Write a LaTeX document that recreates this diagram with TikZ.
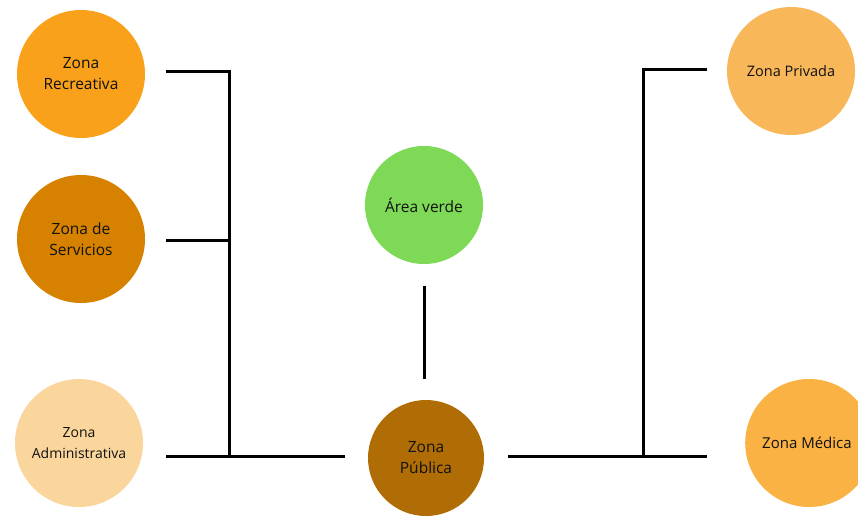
\documentclass[tikz,border=0pt]{standalone}
\usepackage{fontspec}
\setmainfont{Open Sans}
\definecolor{recre}{HTML}{F9A11B}
\definecolor{serv}{HTML}{D68100}
\definecolor{admin}{HTML}{FAD59C}
\definecolor{verde}{HTML}{7ED957}
\definecolor{publica}{HTML}{B06D05}
\definecolor{privada}{HTML}{F8B85A}
\definecolor{medica}{HTML}{FAB245}
\definecolor{txt}{HTML}{111111}
\tikzset{
  zone/.style={circle, minimum size=#1, inner sep=0pt, align=center, text=txt,
    font=\fontsize{15.5}{21}\selectfont},
  zone/.default=128pt,
  link/.style={line width=3pt, black}
}
\begin{document}
\begin{tikzpicture}[x=1pt,y=-1pt]
\useasboundingbox (0,0) rectangle (858,516);
\clip (0,0) rectangle (858,516);
\node[zone, fill=recre] (rec) at (81,74) {Zona\\Recreativa};
\node[zone, fill=serv] (ser) at (81,239) {Zona de\\Servicios};
\node[zone, fill=admin, font=\fontsize{14}{21}\selectfont] (adm) at (79,443) {Zona\\Administrativa};
\node[zone=118pt, fill=verde] (ver) at (424,205) {Área verde};
\node[zone=116pt, fill=publica] (pub) at (426,458) {Zona\\Pública};
\node[zone, fill=privada, font=\fontsize{14.5}{21}\selectfont] (pri) at (791,71) {Zona Privada};
\node[zone, fill=medica, font=\fontsize{15}{21}\selectfont, anchor=west] (med) at (745,443) {};
\node[font=\fontsize{15}{21}\selectfont, text=txt, anchor=west, inner sep=0pt] (medt) at (762,443) {Zona Médica};
% left bracket
\coordinate (l1) at (166,72);
\coordinate (l2) at (229,72);
\coordinate (l3) at (166,240);
\coordinate (l4) at (229,240);
\coordinate (l5) at (166,456);
\coordinate (l6) at (229,456);
\coordinate (l7) at (345,456);
\draw[link] (l1) -- (l2) -- (l6);
\draw[link] (l3) -- (l4);
\draw[link] (l5) -- (l7);
% center
\coordinate (c1) at (424,286);
\coordinate (c2) at (424,379);
\draw[link] (c1) -- (c2);
% right bracket
\coordinate (r1) at (707,70);
\coordinate (r2) at (643,70);
\coordinate (r3) at (643,456);
\coordinate (r4) at (508,456);
\coordinate (r5) at (707,456);
\draw[link] (r1) -- (r2) -- (r3);
\draw[link] (r4) -- (r5);
\end{tikzpicture}
\end{document}
